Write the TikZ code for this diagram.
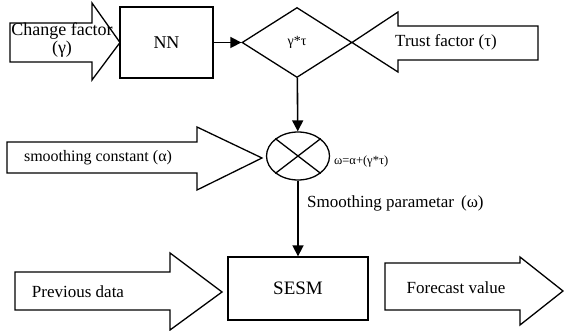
\documentclass[tikz,border=0pt]{standalone}
\usepackage{fontspec}
\setmainfont{Liberation Serif}
\usetikzlibrary{shapes.geometric,arrows.meta}

\begin{document}
\begin{tikzpicture}[x=1pt,y=-1pt,
  blk/.style={draw,line width=1.3pt,line join=miter},
  box/.style={draw,line width=1.3pt,inner sep=0pt},
  lbl/.style={font=\fontsize{17}{14}\selectfont,inner sep=0pt},
  small/.style={font=\fontsize{14}{14}\selectfont,inner sep=0pt},
  flow/.style={line width=1.6pt,-{Triangle[length=11pt,width=11pt]}}]
 \useasboundingbox (0,0) rectangle (564,331);
 \draw[blk] (10,23) -- (92,23) -- (92,3) -- (120,42.5) -- (92,80) -- (92,62) -- (10,62) -- cycle;
 \draw[blk] (352,42.5) -- (398,12) -- (398,26) -- (538,26) -- (538,60) -- (398,60) -- (398,72) -- cycle;
 \draw[blk] (7,142) -- (197,142) -- (197,127) -- (262,158) -- (197,190) -- (197,173) -- (7,173) -- cycle;
 \draw[blk] (15,272) -- (170,272) -- (170,253) -- (222,292) -- (170,330) -- (170,310) -- (15,310) -- cycle;
 \draw[blk] (385,263) -- (520,263) -- (520,257) -- (563,291) -- (520,325) -- (520,310) -- (385,310) -- cycle;
 \node[lbl,font=\fontsize{18}{14}\selectfont,align=center] (chg) at (62,40) {Change factor\\(γ)};
 \node[lbl] (trust) at (446,42) {Trust factor (τ)};
 \node[lbl,font=\fontsize{16}{14}\selectfont] (alpha) at (98,158) {smoothing constant (α)};
 \node[lbl] (prev) at (78,292) {Previous data};
 \node[lbl] (fcast) at (456,288) {Forecast value};
 \node[box,lbl,font=\fontsize{18}{14}\selectfont,minimum width=93pt,minimum height=71pt] (nn) at (166.5,42.5) {NN};
 \node[box,small,diamond,aspect=1.57,minimum width=110pt,minimum height=70pt] (prod) at (297,42.5) {γ*τ};
 \node[box,ellipse,minimum width=63pt,minimum height=48pt] (mix) at (298,156) {};
 \draw[line width=1.3pt] (mix.north west) -- (mix.south east) (mix.north east) -- (mix.south west);
 \node[box,lbl,font=\fontsize{19}{14}\selectfont,minimum width=140pt,minimum height=63pt] (sesm) at (298,288.5) {SESM};
 \node[small,font=\fontsize{12.5}{12}\selectfont,anchor=west] (wform) at (334,161) {ω=α+(γ*τ)};
 \node[lbl,anchor=west] (wlabel) at (307,203) {Smoothing parametar \,(ω)};
 \draw[flow] (nn) -- (prod);
 \draw[flow] (prod) -- (mix);
 \draw[flow] (mix) -- (sesm);
\end{tikzpicture}
\end{document}
